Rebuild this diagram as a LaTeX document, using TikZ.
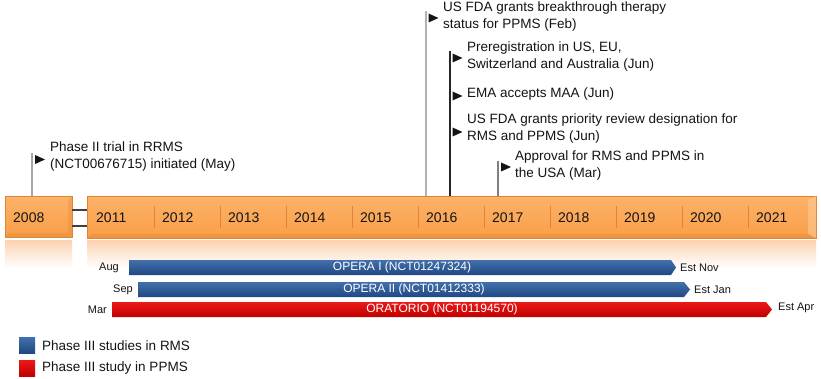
\documentclass[tikz,border=0pt]{standalone}
\usepackage{fontspec}
\setmainfont{Liberation Sans}
\definecolor{orng}{RGB}{249,158,72}
\definecolor{orngL}{RGB}{252,178,104}
\definecolor{orngD}{RGB}{222,132,50}
\definecolor{refl}{RGB}{252,212,180}
\definecolor{blueT}{RGB}{66,112,172}
\definecolor{blueB}{RGB}{32,72,130}
\definecolor{redT}{RGB}{236,24,24}
\definecolor{redB}{RGB}{192,0,0}
\definecolor{txt}{RGB}{20,20,20}
\newcommand{\flagtri}[2]{\fill[txt] (#1,#2-4.5) -- (#1+10,#2) -- (#1,#2+4.5) -- cycle;}
\tikzset{
  ann/.style={anchor=west, align=left, inner sep=0pt, text=txt, font=\fontsize{13.5}{17}\selectfont},
  yr/.style={anchor=west, inner sep=0pt, text=txt, font=\fontsize{14}{16}\selectfont},
  side/.style={inner sep=0pt, text=txt, font=\fontsize{11}{13}\selectfont},
  barlbl/.style={inner sep=0pt, text=white, font=\fontsize{12}{14}\selectfont},
  legtxt/.style={anchor=west, inner sep=0pt, text=txt, font=\fontsize{13.5}{16}\selectfont},
  bandbox/.style={top color=orngL, bottom color=orng, draw=orngD, line width=0.6pt},
  reflbox/.style={top color=refl, bottom color=white},
  divider/.style={draw=orngD, line width=1pt},
  brk/.style={draw=black!75, line width=1.2pt},
  bluebar/.style={top color=blueT, bottom color=blueB},
  redbar/.style={top color=redT, bottom color=redB},
}
\begin{document}
\begin{tikzpicture}[x=1pt,y=-1pt]
\useasboundingbox (0,0) rectangle (821,379);
\fill[white] (0,0) rectangle (821,379);

% reflections
\shade[reflbox] (5,241) rectangle (72,268);
\shade[reflbox] (87,241) rectangle (816,268);

% band
\node[bandbox, minimum width=67pt, minimum height=41pt, anchor=north west, inner sep=0pt] (b2008) at (5,196) {};
\node[bandbox, minimum width=729pt, minimum height=42pt, anchor=north west, inner sep=0pt] (band) at (87,196) {};
% bevel facets at the right end and the left of 2008
\fill[orngL!70!white, opacity=0.6] (808,200) -- (816,196) -- (816,238) -- (808,234) -- cycle;
\fill[orngD, opacity=0.35] (808,234) -- (816,238) -- (87,238) -- (91,234) -- cycle;
\fill[orngD, opacity=0.35] (68,233) -- (72,237) -- (5,237) -- (9,233) -- cycle;
\fill[orngD, opacity=0.3] (68,200) -- (72,196) -- (72,237) -- (68,233) -- cycle;

% break lines
\draw[brk] (72,210) -- (87,210);
\draw[brk] (72,226) -- (87,226);

% dividers
\foreach \x in {154,220,286,352,418,484,550,616,682,748}
  \draw[divider] (\x,206) -- (\x,228);

% years
\node[yr] (y2008) at (13,218) {2008};
\foreach \y [count=\i from 0] in {2011,...,2021}
  \node[yr] (y\y) at (96+66*\i,218) {\y};

% poles
\coordinate (p0t) at (32,153);
\coordinate (p0b) at (32,196);
\coordinate (p1t) at (426,11);
\coordinate (p1b) at (426,196);
\coordinate (p2t) at (450,51);
\coordinate (p2b) at (450,196);
\coordinate (p3t) at (498,161);
\coordinate (p3b) at (498,196);
\draw[black!35, line width=1.4pt] (p0t) -- (p0b);
\draw[black!30, line width=1.4pt] (p1t) -- (p1b);
\draw[black!85, line width=1.4pt] (p2t) -- (p2b);
\draw[black!50, line width=1.4pt] (p3t) -- (p3b);

% flags
\flagtri{35}{159.5}
\flagtri{428.5}{18}
\flagtri{452.5}{58}
\flagtri{452.5}{96}
\flagtri{452.5}{132}
\flagtri{501}{167}

% annotations
\node[ann] (a0) at (50,156.5) {Phase II trial in RRMS\\(NCT00676715) initiated (May)};
\node[ann] (a1) at (443,16.5) {US FDA grants breakthrough therapy\\status for PPMS (Feb)};
\node[ann] (a2) at (467,56.5) {Preregistration in US, EU,\\Switzerland and Australia (Jun)};
\node[ann] (a3) at (467,94) {EMA accepts MAA (Jun)};
\node[ann] (a4) at (467,128.5) {US FDA grants priority review designation for\\RMS and PPMS (Jun)};
\node[ann] (a5) at (515,166) {Approval for RMS and PPMS in\\the USA (Mar)};

% bars
\shade[bluebar] (129,260) -- (671,260) -- (676,267.5) -- (671,275) -- (129,275) -- cycle;
\node[barlbl] (opera1) at (402,267.5) {OPERA I (NCT01247324)};
\shade[bluebar] (138,282) -- (684,282) -- (690,289.5) -- (684,297) -- (138,297) -- cycle;
\node[barlbl] (opera2) at (414,289.5) {OPERA II (NCT01412333)};
\shade[redbar] (112,302) -- (766,302) -- (772,309.5) -- (766,317) -- (112,317) -- cycle;
\node[barlbl] (orat) at (442,309.5) {ORATORIO (NCT01194570)};

\node[side, anchor=east] (s1) at (119,267.5) {Aug};
\node[side, anchor=east] (s2) at (133,289.5) {Sep};
\node[side, anchor=east] (s3) at (107,309.5) {Mar};
\node[side, anchor=west] (e1) at (680,268) {Est Nov};
\node[side, anchor=west] (e2) at (694,289.5) {Est Jan};
\node[side, anchor=west] (e3) at (778,308) {Est Apr};

% legend
\shade[bluebar] (19,337) rectangle (35,353);
\shade[redbar] (19,360) rectangle (35,376);
\node[legtxt] (l1) at (42,345.5) {Phase III studies in RMS};
\node[legtxt] (l2) at (42,368) {Phase III study in PPMS};
\end{tikzpicture}
\end{document}
